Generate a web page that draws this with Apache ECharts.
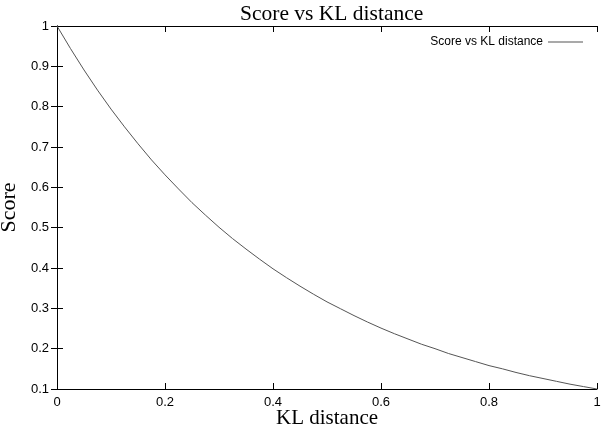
<!DOCTYPE html>
<html>
<head>
<meta charset="utf-8">
<script src="https://cdn.jsdelivr.net/npm/echarts@6/dist/echarts.min.js"></script>
<style>html,body{margin:0;padding:0;background:#fff}#c{width:601px;height:428px}</style>
</head>
<body>
<div id="c"></div>
<script>
const xValues = [0,0.025,0.05,0.075,0.1,0.125,0.15,0.175,0.2,0.225,0.25,0.275,0.3,0.325,0.35,0.375,0.4,0.425,0.45,0.475,0.5,0.525,0.55,0.575,0.6,0.625,0.65,0.675,0.7,0.725,0.75,0.775,0.8,0.825,0.85,0.875,0.9,0.925,0.95,0.975,1];
const scoreValues = [1,0.944,0.891,0.841,0.794,0.750,0.708,0.668,0.631,0.596,0.562,0.531,0.501,0.473,0.447,0.422,0.398,0.376,0.355,0.335,0.316,0.299,0.282,0.266,0.251,0.237,0.224,0.211,0.200,0.188,0.178,0.168,0.158,0.150,0.141,0.133,0.126,0.119,0.112,0.106,0.100];
const seriesName = 'Score vs KL distance';
const titleText = 'Score vs KL distance';
const xName = 'KL distance';
const yName = 'Score';

const chart = echarts.init(document.getElementById('c'), null, {renderer: 'canvas'});
const axisLine = {show: true, lineStyle: {color: '#000', width: 1}};
const tickLabel = {color: '#000', fontFamily: 'Liberation Sans, Arial, sans-serif', fontSize: 13};
chart.setOption({
  animation: false,
  backgroundColor: '#fff',
  title: {text: titleText, left: 235, top: -2,
    textStyle: {fontFamily: 'Liberation Serif, Times New Roman, serif', fontWeight: 'normal', fontSize: 21.5, color: '#000'}},
  legend: {right: 13, top: 31, align: 'right', itemWidth: 35, itemHeight: 10, itemGap: 6, icon: 'path://M0,5L35,5L35,6L0,6Z',
    textStyle: {fontFamily: 'Liberation Sans, Arial, sans-serif', fontSize: 12, color: '#000'},
    data: [{name: seriesName, itemStyle: {color: '#555'}}]},
  grid: {left: 57, top: 26, right: 4, bottom: 39, containLabel: false, outerBoundsMode: 'none'},
  xAxis: [
    {type: 'value', min: 0, max: 1, interval: 0.2, name: xName, nameLocation: 'middle', nameGap: 19, nameMoveOverlap: false,
      nameTextStyle: {fontFamily: 'Liberation Serif, Times New Roman, serif', fontSize: 21, color: '#000'},
      axisLine, axisTick: {show: true, inside: true, length: 6, lineStyle: {color: '#000'}},
      axisLabel: Object.assign({margin: 7, formatter: v => String(+v.toFixed(1))}, tickLabel), splitLine: {show: false}},
    {type: 'value', min: 0, max: 1, interval: 0.2, position: 'top', axisLine,
      axisTick: {show: true, inside: true, length: 6, lineStyle: {color: '#000'}}, axisLabel: {show: false}, splitLine: {show: false}}
  ],
  yAxis: [
    {type: 'value', min: 0.1, max: 1, interval: 0.1, name: yName, nameLocation: 'middle', nameGap: 37, nameRotate: 90, nameMoveOverlap: false,
      nameTextStyle: {fontFamily: 'Liberation Serif, Times New Roman, serif', fontSize: 22, color: '#000'},
      axisLine, axisTick: {show: true, inside: true, length: 6, lineStyle: {color: '#000'}},
      axisLabel: Object.assign({margin: 8, formatter: v => String(+v.toFixed(1))}, tickLabel), splitLine: {show: false}},
    {type: 'value', min: 0.1, max: 1, interval: 0.1, position: 'right', axisLine,
      axisTick: {show: true, inside: true, length: 6, lineStyle: {color: '#000'}}, axisLabel: {show: false}, splitLine: {show: false}}
  ],
  series: [{name: seriesName, type: 'line', showSymbol: false, smooth: false,
    lineStyle: {color: '#555', width: 1}, itemStyle: {color: '#555'},
    data: xValues.map((x, i) => [x, scoreValues[i]])}]
});
</script>
</body>
</html>
